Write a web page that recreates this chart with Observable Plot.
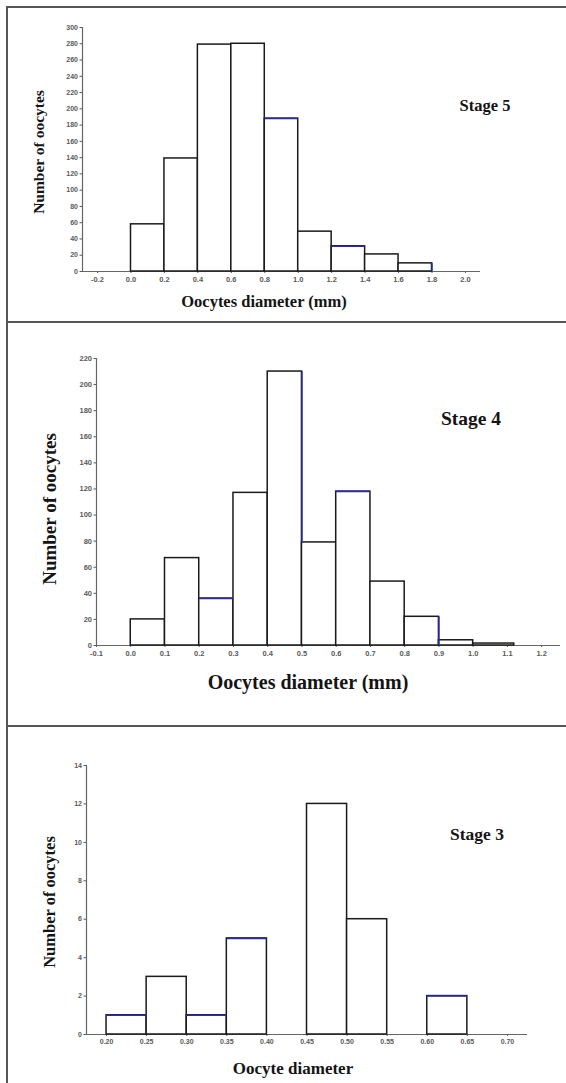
<!DOCTYPE html>
<html><head><meta charset="utf-8">
<script src="https://cdn.jsdelivr.net/npm/d3@7"></script>
<script src="https://cdn.jsdelivr.net/npm/@observablehq/plot@0.6"></script>
<style>
body{margin:0;background:#fff;}
#page{position:relative;width:566px;height:1083px;overflow:hidden;background:#fff;}
.hline{position:absolute;left:6px;right:0;height:2px;background:#555;}
.vline{position:absolute;left:6px;top:6px;bottom:0;width:2px;background:#555;}
.panel{position:absolute;left:0;}
.lbl{position:absolute;font-family:"Liberation Serif","Times New Roman",serif;font-weight:bold;color:#141414;white-space:nowrap;transform:translate(-50%,-50%);line-height:1;}
.ylbl{transform:translate(-50%,-50%) rotate(-90deg);}
</style></head>
<body>
<div id="page">
  <div class="vline"></div>
  <div class="hline" style="top:6px"></div>
  <div class="hline" style="top:321px"></div>
  <div class="hline" style="top:725px"></div>
</div>
<script>
// ---- Stage 5 ----
const stage5Left  = [0.0, 0.2, 0.4, 0.6, 0.8, 1.0, 1.2, 1.4, 1.6];
const stage5Right = [0.2, 0.4, 0.6, 0.8, 1.0, 1.2, 1.4, 1.6, 1.8];
const stage5Count = [58, 139, 279, 280, 188, 49, 31, 21, 10];
const stage5XTicks = [-0.2, 0.0, 0.2, 0.4, 0.6, 0.8, 1.0, 1.2, 1.4, 1.6, 1.8, 2.0];
const stage5YTicks = [0, 20, 40, 60, 80, 100, 120, 140, 160, 180, 200, 220, 240, 260, 280, 300];

// ---- Stage 4 ----
const stage4Left  = [0.0, 0.1, 0.2, 0.3, 0.4, 0.5, 0.6, 0.7, 0.8, 0.9, 1.0];
const stage4Right = [0.1, 0.2, 0.3, 0.4, 0.5, 0.6, 0.7, 0.8, 0.9, 1.0, 1.12];
const stage4Count = [20, 67, 36, 117, 210, 79, 118, 49, 22, 4, 1.5];
const stage4XTicks = [-0.1, 0.0, 0.1, 0.2, 0.3, 0.4, 0.5, 0.6, 0.7, 0.8, 0.9, 1.0, 1.1, 1.2];
const stage4YTicks = [0, 20, 40, 60, 80, 100, 120, 140, 160, 180, 200, 220];

// ---- Stage 3 ----
const stage3Left  = [0.20, 0.25, 0.30, 0.35, 0.45, 0.50, 0.60];
const stage3Right = [0.25, 0.30, 0.35, 0.40, 0.50, 0.55, 0.65];
const stage3Count = [1, 3, 1, 5, 12, 6, 2];
const stage3XTicks = [0.20, 0.25, 0.30, 0.35, 0.40, 0.45, 0.50, 0.55, 0.60, 0.65, 0.70];
const stage3YTicks = [0, 2, 4, 6, 8, 10, 12, 14];

const yTitle = "Number of oocytes";
const xTitles = ["Oocytes diameter (mm)", "Oocytes diameter (mm)", "Oocyte diameter"];
const stageNames = ["Stage 5", "Stage 4", "Stage 3"];

const page = document.getElementById("page");

function makePanel(cfg) {
  const data = cfg.left.map((l, i) => ({x1: l, x2: cfg.right[i], y: cfg.count[i]}));
  const yMax = cfg.yTicks[cfg.yTicks.length - 1];
  const fmt = d => d.toFixed(cfg.dec);
  const blueTop = cfg.blueTop.map(i => data[i]);
  const blueSide = cfg.blueSide.map(([i, lo]) => ({...data[i], lo}));
  const chart = Plot.plot({
    width: 566, height: cfg.h,
    marginTop: cfg.mt, marginBottom: cfg.mb, marginLeft: cfg.ml, marginRight: cfg.mr,
    x: {domain: cfg.xDomain},
    y: {domain: [0, yMax]},
    style: {background: "transparent", color: "#5a5a5a", fontFamily: "'Liberation Sans', Arial, sans-serif"},
    marks: [
      Plot.axisY({ticks: cfg.yTicks, tickSize: 2.5, tickPadding: 2, fontSize: cfg.fy, tickFormat: d => String(d), label: null, fontWeight: "bold"}),
      Plot.axisX({ticks: cfg.xTicks, tickSize: 2, tickPadding: 3, fontSize: cfg.fx, tickFormat: fmt, label: null, fontWeight: "bold"}),
      Plot.ruleX([cfg.xDomain[0]], {y1: 0, y2: yMax, stroke: "#666", strokeWidth: 1.2}),
      Plot.ruleY([0], {stroke: "#666", strokeWidth: 1.2}),
      Plot.rect(data, {x1: "x1", x2: "x2", y1: 0, y2: "y", fill: "white", stroke: "#1a1a1a", strokeWidth: 1.5}),
      Plot.ruleY(blueTop, {x1: "x1", x2: "x2", y: "y", stroke: "#2a2ab0", strokeWidth: 1.5}),
      Plot.ruleX(blueSide, {x: "x2", y1: "lo", y2: "y", stroke: "#2a2ab0", strokeWidth: 1.5})
    ]
  });
  const wrap = document.createElement("div");
  wrap.className = "panel";
  wrap.style.top = cfg.top + "px";
  wrap.appendChild(chart);
  page.appendChild(wrap);

  const add = (txt, x, y, size, cls) => {
    const d = document.createElement("div");
    d.className = "lbl" + (cls ? " " + cls : "");
    d.textContent = txt;
    d.style.left = x + "px"; d.style.top = y + "px"; d.style.fontSize = size + "px";
    page.appendChild(d);
  };
  add(yTitle, cfg.yl[0], cfg.yl[1], cfg.yl[2], "ylbl");
  add(cfg.xTitle, cfg.xl[0], cfg.xl[1], cfg.xl[2]);
  add(cfg.stage, cfg.st[0], cfg.st[1], cfg.st[2]);
}

makePanel({
  left: stage5Left, right: stage5Right, count: stage5Count,
  xTicks: stage5XTicks, yTicks: stage5YTicks, dec: 1,
  xDomain: [-0.29, 2.09],
  top: 0, h: 322, mt: 27, mb: 51, ml: 82, mr: 86,
  fx: 7.5, fy: 7,
  blueTop: [4, 6], blueSide: [[8, 0]],
  xTitle: xTitles[0], stage: stageNames[0],
  yl: [39, 152, 15.5], xl: [264, 302, 16.5], st: [485, 106, 16.5]
});

makePanel({
  left: stage4Left, right: stage4Right, count: stage4Count,
  xTicks: stage4XTicks, yTicks: stage4YTicks, dec: 1,
  xDomain: [-0.1, 1.255],
  top: 322, h: 404, mt: 36, mb: 81, ml: 96, mr: 6,
  fx: 7.5, fy: 7.5,
  blueTop: [2, 6], blueSide: [[4, 79], [8, 0]],
  xTitle: xTitles[1], stage: stageNames[1],
  yl: [49, 509, 19], xl: [308, 682, 20], st: [471, 419, 19.5]
});

makePanel({
  left: stage3Left, right: stage3Right, count: stage3Count,
  xTicks: stage3XTicks, yTicks: stage3YTicks, dec: 2,
  xDomain: [0.175, 0.725],
  top: 726, h: 357, mt: 39, mb: 49, ml: 86, mr: 39,
  fx: 7, fy: 7,
  blueTop: [0, 2, 3, 6], blueSide: [],
  xTitle: xTitles[2], stage: stageNames[2],
  yl: [50, 902, 16.5], xl: [293, 1068, 17], st: [477, 835, 17.5]
});
</script>
</body></html>
